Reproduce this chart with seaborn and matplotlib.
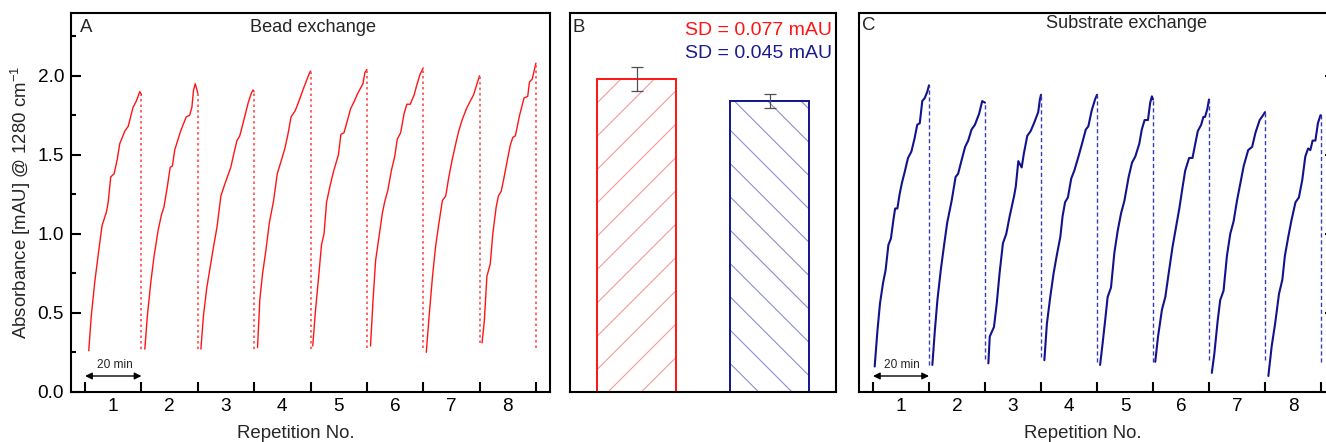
import numpy as np
import pandas as pd
import matplotlib
matplotlib.use("Agg")
import matplotlib.pyplot as plt
from matplotlib.ticker import MultipleLocator, FixedLocator, FormatStrFormatter, NullFormatter
import seaborn as sns

# ---------------- data ----------------
repetitions = [1, 2, 3, 4, 5, 6, 7, 8]
cycle_minutes = 20.0

# Panel A: bead exchange (time within cycle [min], absorbance [mAU])
bead_t1 = [1.3, 2.2, 3.4, 4.6, 6.0, 7.6, 8.2, 9.1, 10.3, 11.4, 12.3, 14.1, 15.3, 17.0, 18.2, 19.4, 20.0]
bead_a1 = [0.26, 0.48, 0.69, 0.86, 1.05, 1.14, 1.20, 1.36, 1.38, 1.47, 1.57, 1.65, 1.68, 1.80, 1.84, 1.90, 1.88]
bead_t2 = [1.2, 2.1, 3.3, 4.5, 5.9, 7.1, 8.0, 9.2, 10.2, 11.0, 11.8, 13.9, 15.9, 17.1, 17.9, 18.5, 19.1, 20.0]
bead_a2 = [0.27, 0.48, 0.69, 0.86, 1.02, 1.12, 1.17, 1.30, 1.42, 1.43, 1.53, 1.65, 1.74, 1.75, 1.80, 1.91, 1.95, 1.89]
bead_t3 = [1.1, 2.0, 3.2, 4.4, 5.6, 6.8, 8.2, 9.5, 10.5, 11.7, 12.7, 13.9, 14.9, 16.2, 17.9, 19.0, 19.6, 20.0]
bead_a3 = [0.27, 0.48, 0.66, 0.79, 0.92, 1.04, 1.24, 1.31, 1.36, 1.42, 1.50, 1.59, 1.62, 1.71, 1.83, 1.89, 1.91, 1.90]
bead_t4 = [1.2, 2.0, 3.0, 4.2, 5.4, 6.9, 8.2, 9.4, 10.9, 12.0, 13.1, 14.6, 15.9, 17.3, 18.6, 19.7, 20.0]
bead_a4 = [0.28, 0.58, 0.75, 0.90, 1.07, 1.21, 1.38, 1.45, 1.54, 1.63, 1.74, 1.78, 1.84, 1.91, 1.97, 2.02, 2.03]
bead_t5 = [0.8, 1.7, 2.9, 3.9, 4.8, 5.7, 6.9, 8.1, 9.9, 10.8, 11.9, 13.3, 14.2, 15.3, 16.8, 17.7, 18.6, 19.3, 20.0]
bead_a5 = [0.29, 0.50, 0.73, 0.93, 1.00, 1.20, 1.30, 1.39, 1.50, 1.63, 1.64, 1.73, 1.79, 1.83, 1.89, 1.92, 1.95, 2.02, 2.04]
bead_t6 = [1.3, 2.2, 3.1, 4.3, 5.5, 6.3, 7.5, 8.7, 9.9, 10.8, 12.0, 13.2, 14.2, 15.4, 16.8, 17.7, 18.9, 20.0]
bead_a6 = [0.29, 0.58, 0.83, 0.98, 1.13, 1.20, 1.28, 1.40, 1.49, 1.60, 1.64, 1.76, 1.82, 1.82, 1.88, 1.94, 2.01, 2.05]
bead_t7 = [1.1, 2.1, 3.3, 4.4, 5.6, 6.8, 8.0, 9.1, 10.3, 11.8, 12.6, 13.8, 15.3, 16.7, 17.9, 19.1, 20.0]
bead_a7 = [0.25, 0.48, 0.73, 0.92, 1.07, 1.21, 1.24, 1.36, 1.47, 1.59, 1.65, 1.72, 1.79, 1.84, 1.88, 1.95, 2.00]
bead_t8 = [0.9, 1.7, 2.6, 3.8, 4.7, 5.9, 6.7, 7.7, 8.5, 9.9, 10.9, 11.8, 12.7, 14.2, 15.8, 17.1, 17.7, 18.7, 20.0]
bead_a8 = [0.31, 0.45, 0.73, 0.81, 1.00, 1.17, 1.24, 1.27, 1.34, 1.47, 1.56, 1.61, 1.62, 1.75, 1.86, 1.87, 1.96, 1.98, 2.08]
bead_drop_low = [0.27, 0.27, 0.27, 0.27, 0.28, 0.28, 0.31, 0.28]

# Panel C: substrate exchange
sub_t1 = [0.6, 1.6, 2.5, 3.6, 4.5, 5.5, 6.4, 7.3, 7.9, 8.7, 9.5, 10.3, 11.3, 12.5, 13.7, 14.8, 15.8, 16.7, 17.6, 18.5, 19.4, 20.0]
sub_a1 = [0.16, 0.39, 0.56, 0.69, 0.77, 0.93, 0.97, 1.09, 1.16, 1.16, 1.25, 1.32, 1.39, 1.48, 1.52, 1.60, 1.69, 1.70, 1.84, 1.86, 1.90, 1.94]
sub_t2 = [1.2, 2.1, 3.0, 4.2, 5.4, 6.5, 8.1, 9.5, 10.4, 11.7, 12.9, 14.0, 15.2, 16.4, 17.9, 19.0, 20.0]
sub_a2 = [0.17, 0.39, 0.58, 0.77, 0.93, 1.07, 1.21, 1.36, 1.38, 1.47, 1.55, 1.59, 1.66, 1.69, 1.76, 1.84, 1.83]
sub_t3 = [1.2, 1.7, 3.2, 4.2, 5.2, 6.4, 7.6, 8.8, 10.4, 11.0, 11.9, 13.1, 13.9, 15.1, 16.3, 17.5, 19.0, 19.6, 20.0]
sub_a3 = [0.18, 0.35, 0.41, 0.56, 0.75, 0.94, 1.00, 1.11, 1.24, 1.30, 1.46, 1.42, 1.51, 1.62, 1.65, 1.70, 1.77, 1.85, 1.88]
sub_t4 = [1.2, 2.1, 3.3, 4.5, 5.7, 6.9, 7.7, 8.6, 9.6, 10.8, 11.9, 13.4, 14.8, 16.0, 16.9, 18.1, 19.3, 20.0]
sub_a4 = [0.20, 0.43, 0.60, 0.75, 0.87, 0.98, 1.11, 1.20, 1.23, 1.35, 1.40, 1.49, 1.58, 1.66, 1.68, 1.78, 1.85, 1.88]
sub_t5 = [1.1, 1.9, 2.9, 3.8, 5.0, 6.2, 7.4, 8.6, 9.8, 11.3, 12.5, 13.7, 15.1, 16.0, 17.0, 18.2, 19.0, 19.6, 20.0]
sub_a5 = [0.17, 0.29, 0.45, 0.60, 0.66, 0.88, 1.02, 1.13, 1.21, 1.36, 1.45, 1.49, 1.57, 1.66, 1.72, 1.72, 1.83, 1.87, 1.85]
sub_t6 = [0.8, 1.8, 3.2, 4.4, 5.6, 7.0, 8.2, 9.4, 10.6, 11.5, 12.9, 14.1, 15.1, 16.0, 17.2, 18.0, 18.6, 19.4, 20.0]
sub_a6 = [0.19, 0.35, 0.52, 0.60, 0.75, 0.92, 1.04, 1.16, 1.30, 1.40, 1.48, 1.48, 1.57, 1.65, 1.69, 1.74, 1.74, 1.79, 1.85]
sub_t7 = [1.0, 1.9, 3.1, 4.0, 5.2, 6.4, 7.6, 8.8, 10.0, 11.2, 12.4, 14.0, 15.4, 16.6, 18.1, 19.3, 20.0]
sub_a7 = [0.12, 0.24, 0.45, 0.58, 0.64, 0.86, 1.00, 1.08, 1.21, 1.32, 1.43, 1.53, 1.55, 1.64, 1.72, 1.75, 1.77]
sub_t8 = [1.2, 2.4, 3.6, 5.0, 6.2, 7.1, 8.3, 9.5, 10.9, 12.1, 13.3, 14.4, 15.4, 16.2, 17.0, 18.0, 18.9, 19.8, 20.0]
sub_a8 = [0.10, 0.29, 0.43, 0.62, 0.71, 0.86, 0.98, 1.09, 1.20, 1.23, 1.34, 1.49, 1.54, 1.53, 1.59, 1.59, 1.70, 1.75, 1.75]
sub_drop_low = [0.17, 0.21, 0.22, 0.19, 0.19, 0.20, 0.20, 0.19]

# Panel B: mean top absorbance and SD
bar_categories = ["Bead exchange", "Substrate exchange"]
bar_means = [1.98, 1.84]
bar_sd = [0.077, 0.045]
sd_labels = ["SD = 0.077 mAU", "SD = 0.045 mAU"]

bead_times = [bead_t1, bead_t2, bead_t3, bead_t4, bead_t5, bead_t6, bead_t7, bead_t8]
bead_abs = [bead_a1, bead_a2, bead_a3, bead_a4, bead_a5, bead_a6, bead_a7, bead_a8]
sub_times = [sub_t1, sub_t2, sub_t3, sub_t4, sub_t5, sub_t6, sub_t7, sub_t8]
sub_abs = [sub_a1, sub_a2, sub_a3, sub_a4, sub_a5, sub_a6, sub_a7, sub_a8]


def to_frame(times, values):
    rows = []
    for rep, ts, vs in zip(repetitions, times, values):
        for t, v in zip(ts, vs):
            rows.append({"rep": rep, "pos": rep - 0.5 + t / cycle_minutes, "abs": v})
    return pd.DataFrame(rows)


# ---------------- style ----------------
sns.set_style("ticks")
plt.rcParams["font.family"] = ["Liberation Sans", "DejaVu Sans"]
plt.rcParams["mathtext.fontset"] = "custom"
plt.rcParams["mathtext.rm"] = "Liberation Sans"
plt.rcParams["mathtext.it"] = "Liberation Sans:italic"
plt.rcParams["mathtext.default"] = "regular"
plt.rcParams["hatch.linewidth"] = 0.4
plt.rcParams["axes.linewidth"] = 0.75
plt.rcParams["axes.edgecolor"] = "black"

RED = "#ff1414"
RED_DOT = "#ff3c3c"
RED_HATCH = "#f59a9a"
NAVY = "#12128c"
BLUE_HATCH = "#8e8ed0"
BLUE_DASH = "#3a3abf"
SD_BLUE = "#1c1c8c"

W, H = 1326, 442
DPI = 200
fig = plt.figure(figsize=(W / DPI, H / DPI), dpi=DPI)
fig.patch.set_facecolor("white")

y0_px, y1_px = 391.8, 12.6
bottom = (H - y0_px) / H
height = (y0_px - y1_px) / H
axA = fig.add_axes([71 / W, bottom, 479 / W, height])
axB = fig.add_axes([570 / W, bottom, 266 / W, height])
axC = fig.add_axes([859 / W, bottom, 476 / W, height])

TICK_FS = 6.85
LABEL_FS = 6.7
TITLE_FS = 6.55


def style_time_axis(ax):
    ax.set_xlim(0.25, 8.75)
    ax.set_ylim(0, 2.4)
    ax.xaxis.set_major_locator(FixedLocator([r + 0.5 for r in [0] + repetitions]))
    ax.xaxis.set_major_formatter(NullFormatter())
    ax.set_xticks(repetitions, [str(r) for r in repetitions], minor=True)
    ax.yaxis.set_major_locator(MultipleLocator(0.5))
    ax.yaxis.set_minor_locator(MultipleLocator(0.25))
    ax.yaxis.set_major_formatter(FormatStrFormatter("%.1f"))
    ax.tick_params(axis="both", which="both", direction="in", width=0.75, colors="black",
                   labelsize=TICK_FS, top=False)
    ax.tick_params(axis="x", which="major", length=3.5)
    ax.tick_params(axis="x", which="minor", length=0, pad=2.2)
    ax.tick_params(axis="y", which="major", length=3.5, pad=2.5)
    ax.tick_params(axis="y", which="minor", length=1.8)
    for s in ax.spines.values():
        s.set_visible(True)
        s.set_color("black")
        s.set_linewidth(0.75)
    ax.set_xlabel("Repetition No.", fontsize=LABEL_FS)
    ax.xaxis.label.set_va("center")
    ax.xaxis.set_label_coords(0.47, -0.109)
    ax.set_facecolor("white")


def time_arrow(ax):
    ax.annotate("", xy=(0.5, 0.1), xytext=(1.5, 0.1),
                arrowprops=dict(arrowstyle="<|-|>,head_length=0.5,head_width=0.25",
                                mutation_scale=4, lw=0.5, color="black",
                                shrinkA=0, shrinkB=0))
    ax.text(1.02, 0.17, "20 min", fontsize=4.3, ha="center", va="center")


# ---------------- Panel A ----------------
dfA = to_frame(bead_times, bead_abs)
sns.lineplot(data=dfA, x="pos", y="abs", units="rep", estimator=None, sort=False,
             color=RED, lw=0.5, ax=axA, legend=False)
axA.vlines([r + 0.5 for r in repetitions], bead_drop_low, [a[-1] for a in bead_abs],
           colors=RED_DOT, linestyles=(0, (1.6, 2.0)), lw=0.55)
style_time_axis(axA)
axA.tick_params(right=False)
axA.set_ylabel("Absorbance [mAU] @ 1280 cm$^{-1}$", fontsize=LABEL_FS)
axA.yaxis.label.set_va("center")
axA.yaxis.label.set_ha("center")
axA.yaxis.set_label_coords(-0.105, 0.5)
axA.text(0.019, 0.962, "A", transform=axA.transAxes, fontsize=6.7, ha="left", va="center")
axA.text(0.505, 0.962, "Bead exchange", transform=axA.transAxes, fontsize=TITLE_FS,
         ha="center", va="center")
time_arrow(axA)

# ---------------- Panel B ----------------
dfB = pd.DataFrame({"cat": bar_categories, "mean": bar_means})
# hatch layer (pale lines)
sns.barplot(data=dfB, x="cat", y="mean", hue="cat", palette=[RED_HATCH, BLUE_HATCH], fill=False,
            saturation=1, width=0.6, errorbar=None, legend=False, linewidth=0, ax=axB)
for patch, h in zip(list(axB.patches), ["//", "\\\\"]):
    patch.set_hatch(h)
n_hatch = len(axB.patches)
# outline layer
sns.barplot(data=dfB, x="cat", y="mean", hue="cat", palette=[RED, NAVY], fill=False,
            saturation=1, width=0.6, errorbar=None, legend=False, linewidth=0.7, ax=axB)
axB.errorbar([0, 1], bar_means, yerr=bar_sd, fmt="none", ecolor="#505050",
             elinewidth=0.45, capsize=2.0, capthick=0.45)
axB.set_xlim(-0.5, 1.5)
axB.set_ylim(0, 2.4)
axB.set_xticks([])
axB.set_yticks([])
axB.set_xlabel("")
axB.set_ylabel("")
for s in axB.spines.values():
    s.set_visible(True)
    s.set_color("black")
    s.set_linewidth(0.75)
axB.text(0.011, 0.962, "B", transform=axB.transAxes, fontsize=6.7, ha="left", va="center")
axB.text(0.984, 0.952, sd_labels[0], transform=axB.transAxes, fontsize=7.0, color=RED,
         ha="right", va="center")
axB.text(0.984, 0.891, sd_labels[1], transform=axB.transAxes, fontsize=7.0, color=SD_BLUE,
         ha="right", va="center")

# ---------------- Panel C ----------------
dfC = to_frame(sub_times, sub_abs)
sns.lineplot(data=dfC, x="pos", y="abs", units="rep", estimator=None, sort=False,
             color=NAVY, lw=0.75, ax=axC, legend=False)
axC.vlines([r + 0.5 for r in repetitions], sub_drop_low, [a[-1] for a in sub_abs],
           colors=BLUE_DASH, linestyles=(0, (3.0, 2.0)), lw=0.5)
style_time_axis(axC)
axC.yaxis.tick_right()
axC.tick_params(axis="y", which="both", left=False, right=True, labelright=False, labelleft=False)
axC.set_ylabel("")
axC.text(0.006, 0.967, "C", transform=axC.transAxes, fontsize=6.7, ha="left", va="center")
axC.text(0.562, 0.970, "Substrate exchange", transform=axC.transAxes, fontsize=TITLE_FS,
         ha="center", va="center")
time_arrow(axC)

fig.savefig("out.png", dpi=DPI, facecolor="white")
